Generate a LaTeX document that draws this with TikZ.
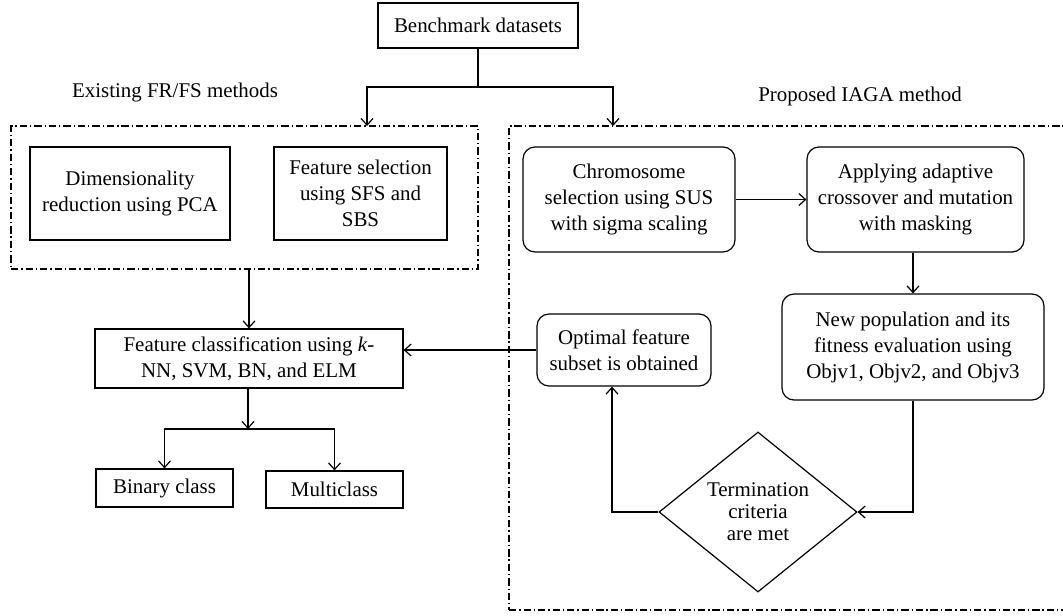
\documentclass[tikz,border=0pt]{standalone}
\usepackage{fontspec}
\setmainfont{Liberation Serif}
\usetikzlibrary{arrows.meta,shapes.geometric}
\tikzset{
  box/.style={draw, line width=0.9pt, align=center, inner sep=2pt},
  rbox/.style={box, rounded corners=9pt},
  grp/.style={draw, line width=0.8pt, dash pattern=on 5.5pt off 2.2pt on 1pt off 2.2pt},
  >={Straight Barb[length=5pt,width=9pt]}
}
\begin{document}
\begin{tikzpicture}[x=0.75pt,y=-0.75pt,font=\fontsize{15.7}{19.5}\selectfont,line width=0.9pt]
\useasboundingbox (0,0) rectangle (1063,615);
\node[box, minimum width=150pt, minimum height=33.75pt] (bench) at (478,25.5) {Benchmark datasets};
\node (exlbl) at (175,92) {Existing FR/FS methods};
\node (prlbl) at (860,96) {Proposed IAGA method};
%% dash-dot frames
\node[grp, minimum width=350.25pt, minimum height=107.25pt] (exist) at (244.5,197.5) {};
\node[grp, minimum width=428.25pt, minimum height=363pt] (prop) at (794.5,368) {};
%% existing methods
\node[box, minimum width=150pt, minimum height=69.75pt] (dimred) at (130,193.5) {Dimensionality\\reduction using PCA};
\node[box, minimum width=129.75pt, minimum height=69.75pt] (fsel) at (360.5,193.5) {Feature selection\\using SFS and\\SBS};
\node[box, minimum width=231pt, minimum height=44.25pt] (classify) at (249,358.5) {Feature classification using \textit{k}-\\NN, SVM, BN, and ELM};
\node[box, minimum width=102.75pt, minimum height=28.5pt] (binary) at (164.5,488) {Binary class};
\node[box, minimum width=102.75pt, minimum height=27.75pt] (multi) at (334.5,489.5) {Multiclass};
%% IAGA
\node[rbox, minimum width=159pt, minimum height=78.75pt] (chrom) at (629,199.5) {Chromosome\\selection using SUS\\with sigma scaling};
\node[rbox, minimum width=162.75pt, minimum height=78.75pt] (adapt) at (915.5,199.5) {Applying adaptive\\crossover and mutation\\with masking};
\node[rbox, minimum width=196.5pt, minimum height=79.5pt] (newpop) at (913,347) {New population and its\\fitness evaluation using\\Objv1, Objv2, and Objv3};
\node[draw, diamond, aspect=1.24, inner sep=0pt, minimum width=148.5pt, minimum height=120pt, align=center, font=\fontsize{15.7}{16.5}\selectfont] (term) at (758,512) {Termination\\criteria\\are met};
\node[rbox, minimum width=130.5pt, minimum height=54pt] (optimal) at (624,350) {Optimal feature\\subset is obtained};
\coordinate (split) at (478,87);
\coordinate (exin) at (367,126);
\coordinate (prin) at (613,126);
\coordinate (csplit) at (248,429);
%% connectors
\draw (bench) -- (split);
\draw[->] (split) -| (exin);
\draw[->] (split) -| (prin);
\draw[->] (exist.south -| classify.north) -- (classify.north);
\draw[->] (classify.south -| csplit) -- (csplit);
\draw[->] (csplit) -| (binary.north);
\draw[->] (csplit) -| (multi.north);
\draw[->] (chrom) -- (adapt);
\draw[->] (adapt.south -| newpop) -- (newpop.north);
\draw[->] (newpop.south) |- (term.east);
\draw[->] (term.west) -| ([xshift=-9pt]optimal.south);
\draw[->] (optimal.west) -- (optimal.west -| classify.east);
\end{tikzpicture}
\end{document}
